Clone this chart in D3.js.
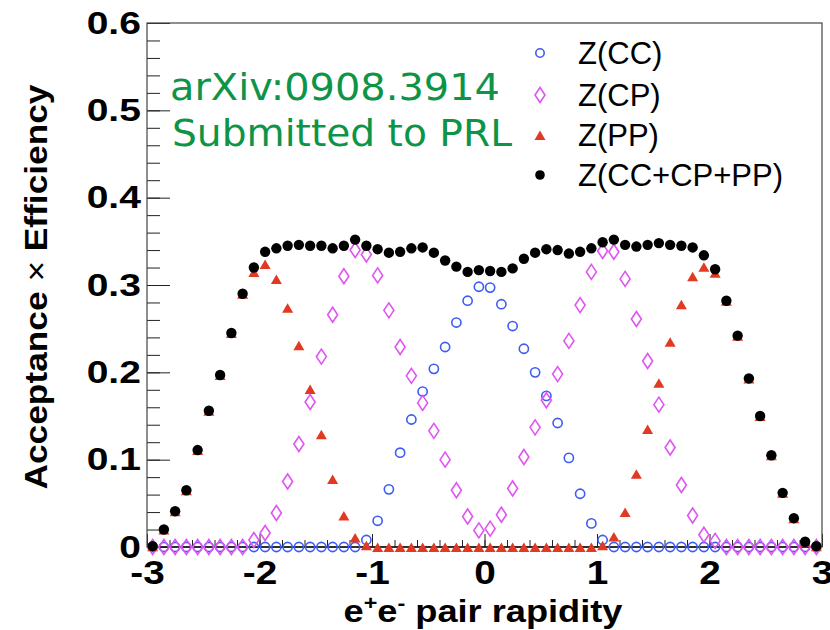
<!DOCTYPE html>
<html>
<head>
<meta charset="utf-8">
<script src="https://cdn.jsdelivr.net/npm/d3@7"></script>
<style>
  body { margin: 0; background: #fff; }
  svg { display: block; }
</style>
</head>
<body>
<svg id="chart"></svg>
<script>
// bin centres in e+e- pair rapidity
const rapidity = [-2.95, -2.85, -2.75, -2.65, -2.55, -2.45, -2.35, -2.25, -2.15, -2.05,
  -1.95, -1.85, -1.75, -1.65, -1.55, -1.45, -1.35, -1.25, -1.15, -1.05,
  -0.95, -0.85, -0.75, -0.65, -0.55, -0.45, -0.35, -0.25, -0.15, -0.05,
  0.05, 0.15, 0.25, 0.35, 0.45, 0.55, 0.65, 0.75, 0.85, 0.95,
  1.05, 1.15, 1.25, 1.35, 1.45, 1.55, 1.65, 1.75, 1.85, 1.95,
  2.05, 2.15, 2.25, 2.35, 2.45, 2.55, 2.65, 2.75, 2.85, 2.95];

const zCC = [0, 0, 0, 0, 0, 0, 0, 0, 0, 0,
  0, 0, 0, 0, 0, 0, 0, 0, 0, 0.008,
  0.030, 0.066, 0.108, 0.146, 0.178, 0.204, 0.229, 0.257, 0.282, 0.298,
  0.297, 0.278, 0.253, 0.227, 0.200, 0.173, 0.142, 0.102, 0.061, 0.027,
  0.008, 0, 0, 0, 0, 0, 0, 0, 0, 0,
  0, 0, 0, 0, 0, 0, 0, 0, 0, 0];

const zCP = [0, 0, 0, 0, 0, 0, 0, 0, 0, 0.008,
  0.016, 0.039, 0.075, 0.118, 0.166, 0.218, 0.266, 0.310, 0.340, 0.335,
  0.311, 0.271, 0.229, 0.196, 0.165, 0.133, 0.100, 0.065, 0.035, 0.019,
  0.021, 0.037, 0.067, 0.103, 0.137, 0.168, 0.198, 0.236, 0.277, 0.315,
  0.339, 0.338, 0.307, 0.261, 0.213, 0.163, 0.114, 0.071, 0.036, 0.014,
  0.007, 0, 0, 0, 0, 0, 0, 0, 0, 0];

const zPP = [0.001, 0.020, 0.041, 0.065, 0.111, 0.156, 0.197, 0.245, 0.290, 0.315,
  0.324, 0.307, 0.274, 0.231, 0.181, 0.129, 0.078, 0.036, 0.011, 0.002,
  0, 0, 0, 0, 0, 0, 0, 0, 0, 0,
  0, 0, 0, 0, 0, 0, 0, 0, 0, 0,
  0.002, 0.012, 0.040, 0.084, 0.135, 0.188, 0.235, 0.278, 0.310, 0.321,
  0.314, 0.282, 0.242, 0.193, 0.150, 0.105, 0.062, 0.033, 0.006, 0.001];

const zAll = [0.001, 0.020, 0.041, 0.065, 0.111, 0.156, 0.197, 0.245, 0.290, 0.320,
  0.338, 0.342, 0.345, 0.346, 0.345, 0.345, 0.342, 0.345, 0.352, 0.345,
  0.341, 0.337, 0.338, 0.342, 0.343, 0.337, 0.328, 0.321, 0.315, 0.317,
  0.316, 0.315, 0.319, 0.330, 0.337, 0.341, 0.340, 0.336, 0.338, 0.342,
  0.349, 0.352, 0.346, 0.344, 0.346, 0.348, 0.346, 0.345, 0.343, 0.334,
  0.318, 0.282, 0.242, 0.193, 0.150, 0.105, 0.062, 0.033, 0.006, 0.001];

const xTicks = [-3, -2, -1, 0, 1, 2, 3];
const xTickLabels = ["-3", "-2", "-1", "0", "1", "2", "3"];
const yTicks = [0, 0.1, 0.2, 0.3, 0.4, 0.5, 0.6];
const yTickLabels = ["0", "0.1", "0.2", "0.3", "0.4", "0.5", "0.6"];
const legendLabels = ["Z(CC)", "Z(CP)", "Z(PP)", "Z(CC+CP+PP)"];

const W = 830, H = 630;
const margin = { top: 23, right: 8, bottom: 83, left: 147 };
const width = W - margin.left - margin.right;
const height = H - margin.top - margin.bottom;

const svg = d3.select("#chart").attr("width", W).attr("height", H);
svg.append("rect").attr("width", W).attr("height", H).attr("fill", "#fff");

const g = svg.append("g")
    .attr("transform", "translate(" + margin.left + "," + margin.top + ")");

const x = d3.scaleLinear().domain([-3, 3]).range([0, width]);
const y = d3.scaleLinear().domain([0, 0.6]).range([height, 0]);

const boldFont = "'Liberation Sans', Arial, Helvetica, sans-serif";

// minor ticks
g.append("g")
    .attr("transform", "translate(0," + height + ")")
    .call(d3.axisBottom(x).tickValues(d3.range(-3, 3.001, 0.2)).tickSize(-7).tickFormat(""))
    .call(a => a.select(".domain").remove());
g.append("g")
    .call(d3.axisLeft(y).tickValues(d3.range(0, 0.6001, 0.02)).tickSize(-13).tickFormat(""))
    .call(a => a.select(".domain").remove());

// major ticks + labels
const xAxis = g.append("g")
    .attr("transform", "translate(0," + height + ")")
    .call(d3.axisBottom(x).tickValues(xTicks).tickSize(-13).tickPadding(13)
        .tickFormat((d, i) => xTickLabels[i]));
const yAxis = g.append("g")
    .call(d3.axisLeft(y).tickValues(yTicks).tickSize(-23).tickPadding(5)
        .tickFormat((d, i) => yTickLabels[i]));

[xAxis, yAxis].forEach(a => {
    a.select(".domain").remove();
    a.selectAll(".tick text")
        .attr("fill", "#000")
        .style("font-family", boldFont)
        .style("font-weight", "bold");
});
yAxis.selectAll(".tick text")
    .style("font-size", "32px")
    .attr("transform", "scale(1.22,1)");
xAxis.selectAll(".tick text")
    .style("font-size", "34px")
    .attr("transform", "scale(1.14,1)");
g.selectAll(".tick line").attr("stroke", "#222").attr("stroke-width", 1);

// frame
g.append("rect")
    .attr("width", width).attr("height", height)
    .attr("fill", "none").attr("stroke", "#444").attr("stroke-width", 1.2);
g.append("line")
    .attr("x1", 0).attr("x2", width).attr("y1", height).attr("y2", height)
    .attr("stroke", "#111").attr("stroke-width", 1.4);

// markers
const blue = "#3d5cf2", magenta = "#e055f2", red = "#e23a22";
const diamondPath = "M0,-7.5L5,0L0,7.5L-5,0Z";
const trianglePath = "M0,-5.5L5.5,4L-5.5,4Z";

const pts = s => rapidity.map((r, i) => ({ r: r, v: s[i] }));

g.append("g").selectAll("circle")
    .data(pts(zCC)).join("circle")
    .attr("cx", d => x(d.r)).attr("cy", d => y(d.v)).attr("r", 4.6)
    .attr("fill", "none").attr("stroke", blue).attr("stroke-width", 1.6);

g.append("g").selectAll("path")
    .data(pts(zCP)).join("path")
    .attr("d", diamondPath)
    .attr("transform", d => "translate(" + x(d.r) + "," + y(d.v) + ")")
    .attr("fill", "none").attr("stroke", magenta).attr("stroke-width", 1.6);

g.append("g").selectAll("path")
    .data(pts(zPP)).join("path")
    .attr("d", trianglePath)
    .attr("transform", d => "translate(" + x(d.r) + "," + (y(d.v) + 1) + ")")
    .attr("fill", red);

g.append("g").selectAll("circle")
    .data(pts(zAll)).join("circle")
    .attr("cx", d => x(d.r)).attr("cy", d => y(d.v)).attr("r", 5.2)
    .attr("fill", "#000");

// legend
const legend = svg.append("g");
const legendY = [53, 95, 135, 175];
const lx = 540;
legend.append("circle").attr("cx", lx).attr("cy", legendY[0]).attr("r", 4.2)
    .attr("fill", "none").attr("stroke", blue).attr("stroke-width", 1.6);
legend.append("path").attr("d", diamondPath)
    .attr("transform", "translate(" + lx + "," + legendY[1] + ")")
    .attr("fill", "none").attr("stroke", magenta).attr("stroke-width", 1.6);
legend.append("path").attr("d", trianglePath)
    .attr("transform", "translate(" + lx + "," + (legendY[2] + 1) + ")")
    .attr("fill", red);
legend.append("circle").attr("cx", lx).attr("cy", legendY[3]).attr("r", 4.8)
    .attr("fill", "#000");
legend.selectAll("text")
    .data(legendLabels).join("text")
    .attr("x", 578).attr("y", (d, i) => legendY[i])
    .attr("dy", "0.36em")
    .style("font-family", boldFont)
    .style("font-size", "31px")
    .attr("fill", "#000")
    .text(d => d);

// axis titles
svg.append("text")
    .attr("x", 483).attr("y", 622)
    .attr("text-anchor", "middle")
    .attr("textLength", 279).attr("lengthAdjust", "spacingAndGlyphs")
    .style("font-family", boldFont).style("font-weight", "bold").style("font-size", "31px")
    .call(t => {
        t.append("tspan").text("e");
        t.append("tspan").attr("dy", -12).style("font-size", "20px").text("+");
        t.append("tspan").attr("dy", 12).text("e");
        t.append("tspan").attr("dy", -12).style("font-size", "20px").text("-");
        t.append("tspan").attr("dy", 12).text(" pair rapidity");
    });

svg.append("text")
    .attr("transform", "translate(47,287) rotate(-90)")
    .attr("text-anchor", "middle")
    .attr("textLength", 405).attr("lengthAdjust", "spacingAndGlyphs")
    .style("font-family", boldFont).style("font-weight", "bold").style("font-size", "32px")
    .call(t => {
        t.append("tspan").text("Acceptance ");
        t.append("tspan").style("font-weight", "normal").text("\u00d7");
        t.append("tspan").text(" Efficiency");
    });

// note text
const note = svg.append("g")
    .style("font-family", "'Comic Sans MS', 'DejaVu Sans', sans-serif")
    .style("font-size", "38px")
    .attr("fill", "#0d9447");
note.append("text").attr("x", 170).attr("y", 100)
    .attr("textLength", 330).attr("lengthAdjust", "spacingAndGlyphs")
    .text("arXiv:0908.3914");
note.append("text").attr("x", 172).attr("y", 146)
    .attr("textLength", 340).attr("lengthAdjust", "spacingAndGlyphs")
    .text("Submitted to PRL");
</script>
</body>
</html>
